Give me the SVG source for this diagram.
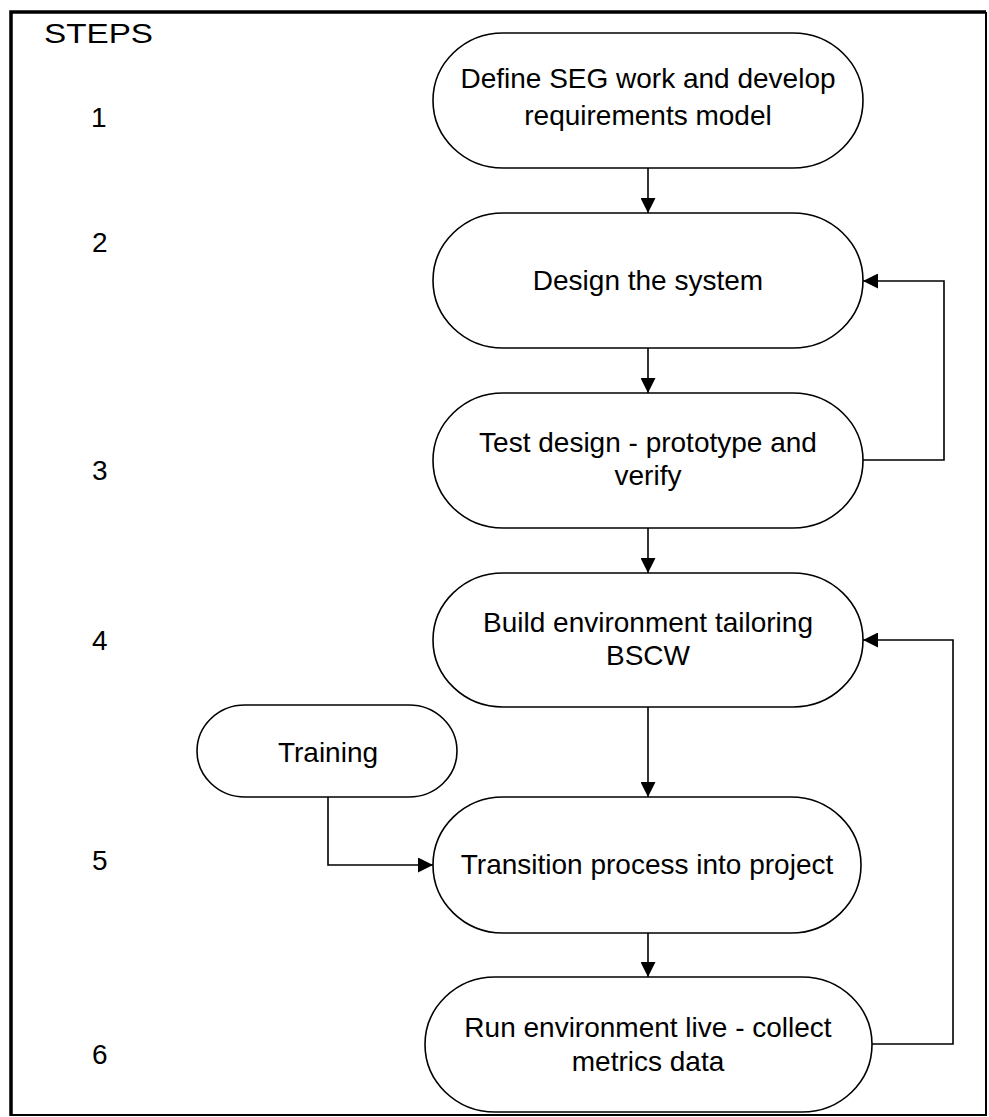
<svg xmlns="http://www.w3.org/2000/svg" width="989" height="1117" viewBox="0 0 989 1117">
<style>
.n{fill:#fff;stroke:#000;stroke-width:1.6}
.t{font-family:"Liberation Sans",Arial,sans-serif;font-size:28px;fill:#000;text-anchor:middle}
.s{font-family:"Liberation Sans",Arial,sans-serif;font-size:28px;fill:#000}
.c{fill:none;stroke:#000;stroke-width:1.6}
</style>
<defs>
<marker id="ah" viewBox="0 0 15 15" refX="15" refY="7.5" markerWidth="15" markerHeight="15" markerUnits="userSpaceOnUse" orient="auto">
<path d="M0,0 L15,7.5 L0,15 Z" fill="#000"/>
</marker>
</defs>
<rect x="0" y="0" width="989" height="1117" fill="#fff"/>
<path d="M11,1116 V12 H986" fill="none" stroke="#000" stroke-width="3.5"/>
<path d="M986,12 V1115 H11" fill="none" stroke="#000" stroke-width="2"/>
<g id="labels">
<text class="s" x="44" y="43" textLength="109" lengthAdjust="spacingAndGlyphs">STEPS</text>
<text class="s" x="91" y="127">1</text>
<text class="s" x="92" y="252">2</text>
<text class="s" x="92" y="480">3</text>
<text class="s" x="92" y="650">4</text>
<text class="s" x="92" y="870">5</text>
<text class="s" x="92" y="1064">6</text>
</g>
<g id="node1"><rect class="n" x="433" y="33" width="430" height="135" rx="70" ry="67.5"/>
<text class="t" x="648" y="88">Define SEG work and develop</text>
<text class="t" x="648" y="125">requirements model</text></g>
<g id="node2"><rect class="n" x="433" y="213" width="430" height="135" rx="70" ry="67.5"/>
<text class="t" x="648" y="290">Design the system</text></g>
<g id="node3"><rect class="n" x="433" y="393" width="430" height="135" rx="70" ry="67.5"/>
<text class="t" x="648" y="452">Test design - prototype and</text>
<text class="t" x="648" y="485">verify</text></g>
<g id="node4"><rect class="n" x="433" y="573" width="430" height="134" rx="70" ry="67"/>
<text class="t" x="648" y="632">Build environment tailoring</text>
<text class="t" x="648" y="665">BSCW</text></g>
<g id="training"><rect class="n" x="197" y="705" width="260" height="92" rx="48" ry="46"/>
<text class="t" x="328" y="762">Training</text></g>
<g id="node5"><rect class="n" x="433" y="797" width="428" height="136" rx="70" ry="68"/>
<text class="t" x="647" y="874">Transition process into project</text></g>
<g id="node6"><rect class="n" x="425" y="977" width="447" height="135" rx="70" ry="67.5"/>
<text class="t" x="648" y="1037">Run environment live - collect</text>
<text class="t" x="648" y="1071">metrics data</text></g>
<g id="connectors">
<path class="c" d="M648,168 V213" marker-end="url(#ah)"/>
<path class="c" d="M648,348 V393" marker-end="url(#ah)"/>
<path class="c" d="M863,460 H944 V281 H863" marker-end="url(#ah)"/>
<path class="c" d="M648,528 V573" marker-end="url(#ah)"/>
<path class="c" d="M648,707 V797" marker-end="url(#ah)"/>
<path class="c" d="M328,797 V865 H433" marker-end="url(#ah)"/>
<path class="c" d="M648,933 V977" marker-end="url(#ah)"/>
<path class="c" d="M872,1044 H953 V640 H863" marker-end="url(#ah)"/>
</g>
</svg>
